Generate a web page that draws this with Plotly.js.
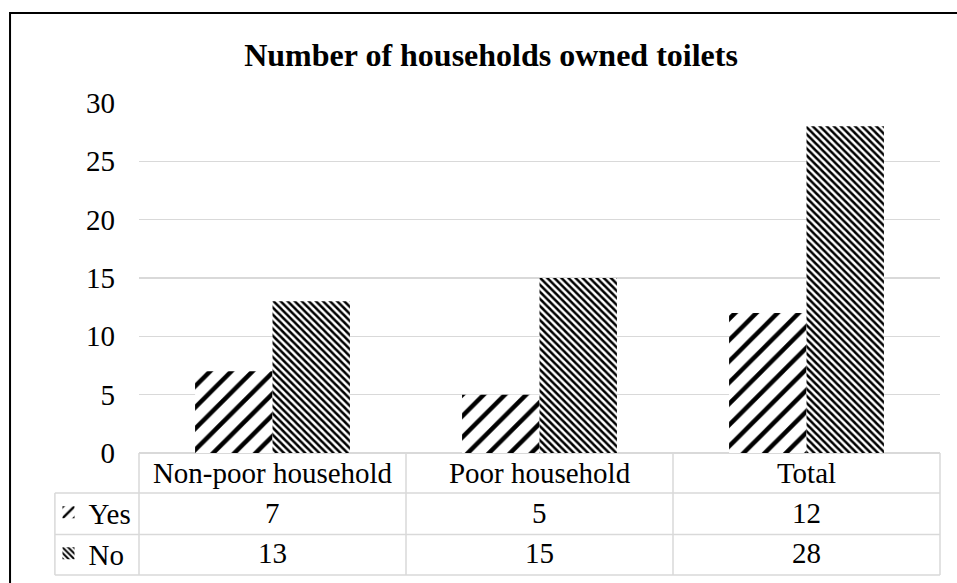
<!DOCTYPE html>
<html>
<head>
<meta charset="utf-8">
<script src="https://cdn.plot.ly/plotly-3.0.1.min.js"></script>
<style>
  html, body { margin: 0; padding: 0; background: #fff; }
  #chart { width: 957px; height: 583px; }
</style>
</head>
<body>
<div id="chart"></div>
<script>
// ---- data ----
const categories = ["Non-poor household", "Poor household", "Total"];
const seriesNames = ["Yes", "No"];
const yesValues = [7, 5, 12];
const noValues = [13, 15, 28];
const yTicks = [0, 5, 10, 15, 20, 25, 30];
const chartTitle = "Number of households owned toilets";

// ---- styling ----
const FONT = "Liberation Serif, Times New Roman, serif";
const GRID = "#d9d9d9";
const fs = 29;

const traces = [
  {
    type: "bar", name: seriesNames[0], x: categories, y: yesValues,
    marker: { color: "#ffffff", line: { width: 0 },
      pattern: { shape: "/", size: 15, solidity: 0.3, fgcolor: "#000000", bgcolor: "#ffffff", fillmode: "replace" } },
    legend: "legend", hoverinfo: "skip"
  },
  {
    type: "bar", name: seriesNames[1], x: categories, y: noValues,
    marker: { color: "#ffffff", line: { width: 0 },
      pattern: { shape: "\\", size: 5, solidity: 0.5, fgcolor: "#000000", bgcolor: "#ffffff", fillmode: "replace" } },
    legend: "legend2", hoverinfo: "skip"
  }
];

// table geometry (paper coords)
const rowYes = -0.17, rowNo = -0.287;
const rowLines = [-0.1143, -0.233, -0.3486];
const leftColX = -0.105;
const lineStyle = { color: GRID, width: 1.5 };
const shapes = [];
rowLines.forEach(y => shapes.push({ type: "line", xref: "paper", yref: "paper", x0: leftColX, x1: 1, y0: y, y1: y, line: lineStyle }));
for (let i = 0; i <= categories.length; i++) {
  const x = i / categories.length;
  shapes.push({ type: "line", xref: "paper", yref: "paper", x0: x, x1: x, y0: 0, y1: rowLines[2], line: lineStyle });
}
shapes.push({ type: "line", xref: "paper", yref: "paper", x0: leftColX, x1: leftColX, y0: rowLines[0], y1: rowLines[2], line: lineStyle });
// outer chart border
shapes.push({ type: "rect", xref: "paper", yref: "paper", x0: -0.161, x1: 1.06, y0: 1.257, y1: -0.5, line: { color: "#000", width: 2 }, fillcolor: "rgba(0,0,0,0)", layer: "below" });

const annotations = [];
categories.forEach((c, i) => {
  annotations.push({ xref: "x", yref: "paper", x: c, y: rowYes, text: String(yesValues[i]), showarrow: false, font: { family: FONT, size: fs, color: "#000" }, yanchor: "middle" });
  annotations.push({ xref: "x", yref: "paper", x: c, y: rowNo, text: String(noValues[i]), showarrow: false, font: { family: FONT, size: fs, color: "#000" }, yanchor: "middle" });
});

const layout = {
  width: 957, height: 583,
  margin: { l: 139, r: 17, t: 103, b: 130, autoexpand: false },
  paper_bgcolor: "#ffffff", plot_bgcolor: "#ffffff",
  font: { family: FONT, size: fs, color: "#000" },
  title: { text: "<b>" + chartTitle + "</b>", font: { family: FONT, size: 32, color: "#000" },
    xref: "paper", x: 0.4395, xanchor: "center", yref: "container", y: 0.906, yanchor: "middle" },
  barmode: "group", bargap: 0.42, bargroupgap: 0,
  xaxis: { type: "category", showgrid: false, zeroline: false, showline: false, ticks: "",
    tickfont: { family: FONT, size: fs, color: "#000" }, ticklabelstandoff: 0, fixedrange: true },
  yaxis: { range: [0, 30], tickvals: yTicks, ticktext: yTicks.map(String), showgrid: true, gridcolor: GRID, gridwidth: 1.5,
    zeroline: true, zerolinecolor: GRID, zerolinewidth: 1.5, showline: false, ticks: "",
    tickfont: { family: FONT, size: fs, color: "#000" }, ticklabelstandoff: 23, fixedrange: true },
  showlegend: true,
  legend: { x: -0.113, xanchor: "left", y: rowYes, yanchor: "middle", bgcolor: "rgba(0,0,0,0)", font: { family: FONT, size: fs, color: "#000" }, itemclick: false, itemdoubleclick: false },
  legend2: { x: -0.113, xanchor: "left", y: rowNo, yanchor: "middle", bgcolor: "rgba(0,0,0,0)", font: { family: FONT, size: fs, color: "#000" }, itemclick: false, itemdoubleclick: false },
  shapes: shapes,
  annotations: annotations
};

Plotly.newPlot("chart", traces, layout, { displayModeBar: false, staticPlot: true });
</script>
</body>
</html>
